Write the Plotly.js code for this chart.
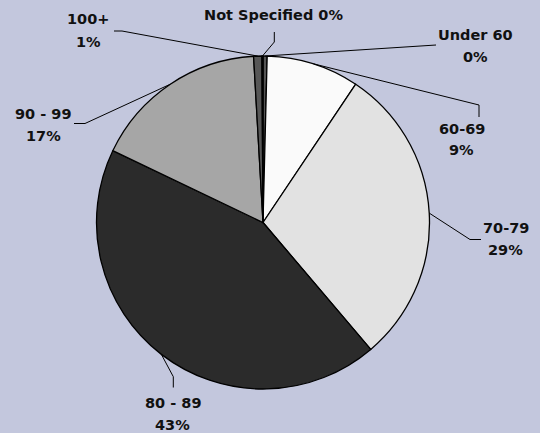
<!DOCTYPE html>
<html>
<head>
<meta charset="utf-8">
<script src="https://cdn.plot.ly/plotly-3.0.1.min.js"></script>
<style>
  html, body { margin: 0; padding: 0; background: #c3c7dd; }
  #chart { width: 540px; height: 433px; }
</style>
</head>
<body>
<div id="chart"></div>
<script>
// ---- data ----
const categories = ['Under 60', '60-69', '70-79', '80 - 89', '90 - 99', '100+', 'Not Specified'];
const values = [0.4, 9.0, 29.4, 43.3, 17.0, 0.8, 0.1];

// ---- styles ----
const sliceColors = ['#555555', '#fafafa', '#e2e2e2', '#2b2b2b', '#a6a6a6', '#575757', '#222222'];
const W = 540, H = 433;
const cx = 263, cy = 222.5, R = 166.5;

// label layout (pixels): [centerX, line1Y, line2Y or null], leader path points after anchor
const labelLayout = [
  { x: 475, y1: 35, y2: 57, path: [[436, 45]] },
  { x: 461.5, y1: 129, y2: 150.5, path: [[479, 105], [479, 117]] },
  { x: 505.5, y1: 228, y2: 250, path: [[470, 239.5], [481, 239.5]] },
  { x: 172.5, y1: 403, y2: 425, path: [[173.3, 376.7], [173.3, 387.5]] },
  { x: 43, y1: 113.5, y2: 135.5, path: [[85, 123.5], [74, 123.5]] },
  { x: 88, y1: 19.5, y2: 41.5, path: [[122, 31], [114, 31]] },
  { x: 273, y1: 15, y2: null, path: [[274.3, 42], [274.3, 32]] }
];

const px = x => x / W;
const py = y => 1 - y / H;

const total = values.reduce((a, b) => a + b, 0);
const font = { family: 'DejaVu Sans, sans-serif', size: 14.5, color: '#111111' };
const annotations = [];
const shapes = [];
let cum = 0;
values.forEach((v, i) => {
  const mid = (cum + v / 2) / total * 2 * Math.PI;
  cum += v;
  const ax = cx + R * Math.sin(mid);
  const ay = cy - R * Math.cos(mid);
  const pct = Math.round(v / total * 100) + '%';
  const L = labelLayout[i];
  if (L.y2 === null) {
    annotations.push({ xref: 'paper', yref: 'paper', x: px(L.x), y: py(L.y1), text: '<b>' + categories[i] + ' ' + pct + '</b>',
      showarrow: false, xanchor: 'center', yanchor: 'middle', font: font });
  } else {
    annotations.push({ xref: 'paper', yref: 'paper', x: px(L.x), y: py(L.y1), text: '<b>' + categories[i] + '</b>',
      showarrow: false, xanchor: 'center', yanchor: 'middle', font: font });
    annotations.push({ xref: 'paper', yref: 'paper', x: px(L.x), y: py(L.y2), text: '<b>' + pct + '</b>',
      showarrow: false, xanchor: 'center', yanchor: 'middle', font: font });
  }
  let d = 'M ' + px(ax) + ' ' + py(ay);
  L.path.forEach(p => { d += ' L ' + px(p[0]) + ' ' + py(p[1]); });
  shapes.push({ type: 'path', xref: 'paper', yref: 'paper', path: d, line: { color: '#000000', width: 1 } });
});

const trace = {
  type: 'pie',
  labels: categories,
  values: values,
  sort: false,
  direction: 'clockwise',
  rotation: 0,
  textinfo: 'none',
  hoverinfo: 'label+percent',
  marker: { colors: sliceColors, line: { color: '#000000', width: 1.3 } },
  domain: { x: [96 / W, 430 / W], y: [1 - 389 / H, 1 - 56 / H] },
  showlegend: false
};

const layout = {
  width: W, height: H,
  margin: { l: 0, r: 0, t: 0, b: 0 },
  paper_bgcolor: '#c3c7dd',
  plot_bgcolor: '#c3c7dd',
  showlegend: false,
  annotations: annotations,
  shapes: shapes
};

Plotly.newPlot('chart', [trace], layout, { displayModeBar: false, staticPlot: true });
</script>
</body>
</html>
